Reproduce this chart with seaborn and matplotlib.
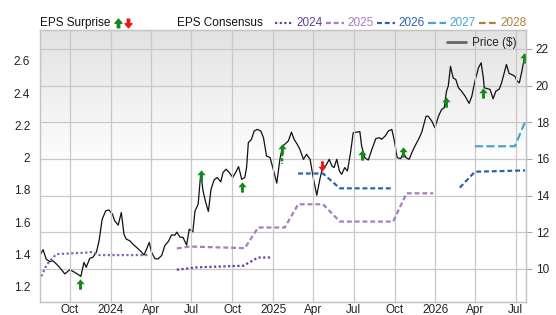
import numpy as np
import pandas as pd
import matplotlib.pyplot as plt
from matplotlib.path import Path
from matplotlib.lines import Line2D
from matplotlib.colors import LinearSegmentedColormap
import seaborn as sns

# ---- data ----
START = pd.Timestamp("2023-07-26")
END = pd.Timestamp("2026-07-24")

# weekly-ish closing price, as days after START
price_days = [0, 7, 14, 22, 29, 37, 44, 56, 67, 78, 92, 99, 104, 112, 119, 127, 133, 140, 148, 155,
              163, 168, 176, 183, 189, 194, 202, 209, 221, 228, 234, 240, 246, 251, 259, 266, 274, 281, 289, 296,
              304, 308, 315, 322, 330, 336, 344, 349, 356, 362, 367, 373, 379, 385, 392, 399, 407, 412, 419, 426,
              434, 441, 447, 454, 461, 465, 469, 476, 482, 489, 497, 503, 510, 518, 525, 533, 540, 546, 551, 559,
              566, 572, 579, 585, 593, 600, 608, 615, 623, 630, 636, 644, 651, 657, 662, 668, 674, 679, 686, 692,
              699, 705, 713, 720, 724, 731, 739, 747, 756, 764, 769, 777, 784, 792, 797, 804, 812, 818, 824, 831,
              837, 844, 852, 859, 869, 874, 882, 889, 897, 904, 910, 915, 919, 924, 930, 936, 942, 949, 957, 966,
              972, 979, 987, 993, 998, 1000, 1009, 1013, 1020, 1026, 1034, 1039, 1044, 1050, 1056, 1062, 1069, 1074, 1079, 1084,
              1089, 1094]
price_vals = [10.76, 11.05, 10.54, 10.40, 10.45, 10.27, 10.09, 9.73, 9.96, 9.82, 9.60, 10.36, 10.09, 10.58, 10.64, 10.91, 11.54, 12.72, 13.17, 13.22,
              12.99, 12.63, 12.39, 13.08, 11.90, 11.63, 11.54, 11.36, 11.09, 10.94, 10.76, 11.09, 11.45, 10.91, 10.56, 10.55, 10.74, 11.28, 11.50, 11.85,
              11.85, 12.01, 11.74, 11.72, 11.30, 12.17, 12.03, 13.17, 13.53, 15.26, 14.26, 13.63, 13.14, 14.35, 14.86, 14.99, 14.75, 15.26, 15.44, 15.26,
              14.99, 15.29, 15.58, 14.89, 14.99, 15.53, 16.89, 17.07, 17.52, 17.61, 17.52, 17.16, 16.16, 16.07, 15.44, 14.68, 15.98, 16.70, 16.80, 16.98,
              17.46, 17.07, 16.80, 16.52, 15.98, 16.25, 15.98, 14.99, 14.02, 14.89, 15.53, 15.65, 15.98, 15.62, 15.53, 15.98, 15.34, 15.16, 15.53, 15.34,
              16.34, 17.43, 17.46, 17.49, 16.70, 16.07, 15.94, 16.52, 17.11, 17.16, 17.07, 17.25, 17.52, 17.61, 17.07, 16.07, 16.02, 16.34, 16.07, 15.98,
              16.34, 16.70, 17.07, 17.43, 18.33, 18.33, 18.06, 17.70, 18.33, 18.70, 18.79, 19.69, 19.97, 21.05, 20.42, 20.33, 19.88, 19.69, 19.42, 19.03,
              19.42, 20.24, 20.97, 21.24, 20.42, 19.88, 19.82, 19.79, 19.28, 19.69, 19.82, 20.15, 20.60, 21.15, 20.66, 20.60, 20.51, 20.24, 20.15, 20.70,
              21.33, 21.69]

# EPS consensus lines (days after START, EPS)
fy23_days = [3, 14, 22, 37, 108, 119, 134, 243]
fy23_eps = [1.263, 1.329, 1.359, 1.401, 1.411, 1.415, 1.395, 1.395]
fy24_days = [308, 353, 458, 491, 521]
fy24_eps = [1.304, 1.319, 1.329, 1.380, 1.380]
fy25_days = [308, 337, 461, 491, 551, 581, 637, 675, 795, 825, 885]
fy25_eps = [1.436, 1.448, 1.438, 1.566, 1.566, 1.710, 1.710, 1.603, 1.603, 1.778, 1.778]
fy26a_days = [581, 637, 675, 795]
fy26a_eps = [1.901, 1.901, 1.809, 1.809]
fy26b_days = [945, 979, 1092]
fy26b_eps = [1.813, 1.912, 1.920]
fy27_days = [979, 1069, 1094]
fy27_eps = [2.070, 2.070, 2.235]

# EPS surprises: date (days after START), price level of the marker, direction
surprise_days = [89, 362, 454, 544, 634, 725, 816, 915, 998, 1089]
surprise_lvl = [9.20, 15.11, 14.49, 16.52, 15.60, 16.20, 16.36, 19.13, 19.57, 21.53]
surprise_up = [True, True, True, True, False, True, True, True, True, True]
stem_day, stem_top, stem_bot = 544, 16.30, 15.72

years = ["2024", "2025", "2026", "2027", "2028"]
year_colors = {"2023": "#8462b0", "2024": "#6a3d9a", "2025": "#a67cc2",
               "2026": "#2a63ae", "2027": "#4aa3d6", "2028": "#b0803c"}
year_dashes = {"2023": (1, 1.1), "2024": (1, 1.1), "2025": (2.2, 1.3),
               "2026": (2.2, 1.3), "2027": (3.6, 1.6), "2028": (3.0, 1.5)}

# ---- tables ----
price_df = pd.DataFrame({"date": START + pd.to_timedelta(price_days, unit="D"), "price": price_vals})
eps_parts = []
for yr, seg, d, v in [("2023", "a23", fy23_days, fy23_eps), ("2024", "a24", fy24_days, fy24_eps),
                      ("2025", "a25", fy25_days, fy25_eps), ("2026", "a26", fy26a_days, fy26a_eps),
                      ("2026", "b26", fy26b_days, fy26b_eps), ("2027", "a27", fy27_days, fy27_eps)]:
    eps_parts.append(pd.DataFrame({"date": START + pd.to_timedelta(d, unit="D"), "eps": v,
                                   "year": yr, "seg": seg}))
eps_df = pd.concat(eps_parts, ignore_index=True)
surp_df = pd.DataFrame({"date": START + pd.to_timedelta(surprise_days, unit="D"),
                        "lvl": surprise_lvl, "up": surprise_up})

# ---- style ----
sns.set_style("white")
plt.rcParams["font.family"] = ["Liberation Sans", "DejaVu Sans"]
plt.rcParams["font.size"] = 8.5

W, H = 556, 315
fig = plt.figure(figsize=(W / 100, H / 100), dpi=100)
rect = [40 / W, 13 / H, 486 / W, 272 / H]

# gradient background
bg = fig.add_axes(rect, zorder=0)
bg.axis("off")
cmap = LinearSegmentedColormap.from_list("bg", ["#ffffff", "#ffffff", "#e2e2e2"])
grad = np.linspace(0, 1, 256)[:, None]
bg.imshow(grad, cmap=cmap, aspect="auto", origin="lower", extent=[0, 1, 0, 1])
bg.set_xlim(0, 1)
bg.set_ylim(0, 1)

ax2 = fig.add_axes(rect, zorder=1)   # price, right axis
ax2.patch.set_visible(False)
ax = fig.add_axes(rect, zorder=2, sharex=ax2)  # EPS, left axis
ax.patch.set_visible(False)

# price
sns.lineplot(data=price_df, x="date", y="price", ax=ax2, color="#111111", lw=0.9,
             estimator=None, sort=False, legend=False)

# arrow markers
up_arrow = Path([(0, 1), (0.8, 0.05), (0.28, 0.05), (0.28, -1), (-0.28, -1), (-0.28, 0.05),
                 (-0.8, 0.05), (0, 1)], closed=True)
down_arrow = Path([(x, -y) for x, y in up_arrow.vertices], closed=True)

ax2.plot([START + pd.Timedelta(days=stem_day)] * 2, [stem_top, stem_bot], color="#138a13",
         lw=1.6, dashes=(1.5, 0.8), zorder=4)
for up, col, mk in [(True, "#138a13", up_arrow), (False, "#f01414", down_arrow)]:
    sub = surp_df[surp_df["up"] == up]
    sns.scatterplot(data=sub, x="date", y="lvl", ax=ax2, marker=mk, s=55, color=col,
                    edgecolor=col, linewidth=0, zorder=5, legend=False)

# EPS consensus
sns.lineplot(data=eps_df, x="date", y="eps", hue="year", style="year", units="seg",
             estimator=None, sort=False, palette=year_colors, dashes=year_dashes,
             lw=1.6, ax=ax, legend=False)

# axes
ax.set_xlim(START, END)
ax.set_ylim(1.104, 2.791)
ax2.set_ylim(8.20, 23.03)
ax.set_xlabel("")
ax.set_ylabel("")
ax2.set_xlabel("")
ax2.set_ylabel("")

ax.set_yticks([1.2, 1.4, 1.6, 1.8, 2.0, 2.2, 2.4, 2.6])
ax.yaxis.set_major_formatter(plt.FuncFormatter(lambda v, p: f"{v:g}"))
ax2.set_yticks([10, 12, 14, 16, 18, 20, 22])
ax2.yaxis.tick_right()
ax2.tick_params(axis="x", bottom=False, labelbottom=False)

qticks = pd.date_range("2023-10-01", "2026-07-01", freq="QS")
ax.set_xticks(qticks)
ax.set_xticklabels([str(d.year) if d.month == 1 else d.strftime("%b") for d in qticks])
ax.tick_params(axis="x", length=0, pad=1.5, labelsize=8.5, colors="#222222")
ax.tick_params(axis="y", length=4, width=0.8, color="#aaaaaa", pad=3, labelsize=8.5, labelcolor="#222222")
ax2.tick_params(axis="y", length=4, width=0.8, color="#aaaaaa", pad=3, labelsize=8.5, labelcolor="#222222")

ax.grid(axis="x", color="#c8c8c8", lw=0.9)
ax2.grid(axis="y", color="#c8c8c8", lw=0.9)
ax.set_axisbelow(True)
ax2.set_axisbelow(True)
for a in (ax, ax2):
    for s in a.spines.values():
        s.set_color("#c4c4c4")
        s.set_linewidth(0.9)

# price legend inside the plot
ax.legend(handles=[Line2D([], [], color="#666666", lw=2)], labels=["Price ($)"],
          loc="upper right", bbox_to_anchor=(0.995, 1.0), frameon=False,
          handlelength=1.6, handletextpad=0.5, borderaxespad=0.2, fontsize=8.5)

# header legend
ty = 1 - 26 / H
fig.text(40 / W, ty, "EPS Surprise", ha="left", va="baseline", color="#111111")
fig.add_artist(Line2D([118 / W], [1 - 22.5 / H], marker=up_arrow, markersize=6.2,
                      color="#138a13", lw=0, transform=fig.transFigure))
fig.add_artist(Line2D([128 / W], [1 - 22.5 / H], marker=down_arrow, markersize=6.2,
                      color="#f01414", lw=0, transform=fig.transFigure))
fig.text(177 / W, ty, "EPS Consensus", ha="left", va="baseline", color="#111111")
line_x = {"2024": 275, "2025": 326, "2026": 377, "2027": 428, "2028": 479}
for yr in years:
    x0 = line_x[yr]
    fig.add_artist(Line2D([x0 / W, (x0 + 18) / W], [1 - 22.5 / H] * 2, color=year_colors[yr],
                          lw=1.6, dashes=year_dashes[yr], transform=fig.transFigure))
    fig.text((x0 + 21) / W, ty, yr, ha="left", va="baseline", color=year_colors[yr])

fig.savefig("out.png", dpi=100)
